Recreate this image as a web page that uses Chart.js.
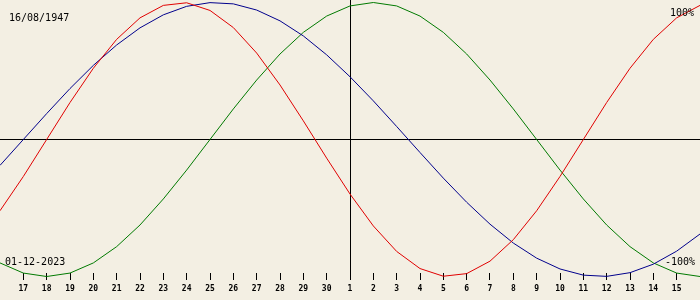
<!DOCTYPE html>
<html>
<head>
<meta charset="utf-8">
<script src="https://cdn.jsdelivr.net/npm/chart.js@4"></script>
<style>
  html, body { margin: 0; padding: 0; background: #F3EFE3; }
  canvas { display: block; }
</style>
</head>
<body>
<canvas id="c" width="700" height="300"></canvas>
<script>
// Days of month, 16 Nov 2023 .. 16 Dec 2023 (centre = 1 Dec 2023)
const dayLabels = ['16','17','18','19','20','21','22','23','24','25','26','27','28','29','30',
                   '1','2','3','4','5','6','7','8','9','10','11','12','13','14','15','16'];

// Physical (red), percent
const physical = [-52.0,-27.0,0.0,27.0,52.0,73.1,88.8,97.9,99.8,94.2,81.7,63.1,39.8,13.6,-13.6,
                  -39.8,-63.1,-81.7,-94.2,-99.8,-97.9,-88.8,-73.1,-52.0,-27.0,0.0,27.0,52.0,73.1,88.8,97.9];
// Emotional (green), percent
const emotional = [-90.1,-97.5,-100.0,-97.5,-90.1,-78.2,-62.4,-43.4,-22.3,0.0,22.3,43.4,62.4,78.2,90.1,
                   97.5,100.0,97.5,90.1,78.2,62.4,43.4,22.3,0.0,-22.3,-43.4,-62.4,-78.2,-90.1,-97.5,-100.0];
// Intellectual (blue), percent
const intellectual = [-18.9,0.0,18.9,37.2,54.1,69.0,81.5,91.0,97.2,99.9,99.0,94.5,86.6,75.6,61.8,
                      45.8,28.2,9.5,-9.5,-28.2,-45.8,-61.8,-75.6,-86.6,-94.5,-99.0,-99.9,-97.2,-91.0,-81.5,-69.0];

const birthText = '16/08/1947';
const dateText = '01-12-2023';
const topText = '100%';
const bottomText = '-100%';

const textPlugin = {
  id: 'texts',
  afterDatasetsDraw(chart) {
    const ctx = chart.ctx;
    ctx.save();
    ctx.fillStyle = '#000';
    ctx.font = '10px "DejaVu Sans Mono"';
    ctx.textBaseline = 'alphabetic';
    ctx.textAlign = 'left';
    ctx.fillText(birthText, 9, 21);
    ctx.fillText(dateText, 5, 265);
    ctx.textAlign = 'right';
    ctx.fillText(topText, 694, 16);
    ctx.fillText(bottomText, 695, 265);
    ctx.restore();
  }
};

new Chart(document.getElementById('c'), {
  type: 'line',
  data: {
    labels: dayLabels,
    datasets: [
      { data: physical, borderColor: '#E00000', borderWidth: 1, pointRadius: 0, pointHoverRadius: 0, tension: 0, clip: false, fill: false },
      { data: intellectual, borderColor: '#00008C', borderWidth: 1, pointRadius: 0, pointHoverRadius: 0, tension: 0, clip: false, fill: false },
      { data: emotional, borderColor: '#007A00', borderWidth: 1, pointRadius: 0, pointHoverRadius: 0, tension: 0, clip: false, fill: false }
    ]
  },
  options: {
    responsive: false,
    animation: false,
    layout: { padding: 0, autoPadding: false },
    plugins: { legend: { display: false }, tooltip: { enabled: false } },
    scales: {
      x: {
        type: 'category',
        offset: false,
        border: { display: false },
        grid: {
          drawOnChartArea: true,
          color: (c) => (c.index === 15 ? '#000' : 'rgba(0,0,0,0)'),
          tickColor: (c) => ((c.index === 0 || c.index === 30) ? 'rgba(0,0,0,0)' : '#000'),
          tickLength: 7,
          lineWidth: 1
        },
        ticks: {
          autoSkip: false,
          maxRotation: 0,
          minRotation: 0,
          padding: 4,
          color: '#000',
          font: { family: '"DejaVu Sans Mono"', size: 8, weight: 'bold' },
          callback: (v, i) => ((i === 0 || i === 30) ? '' : dayLabels[i])
        },
        afterFit: (s) => { s.height = 27; s.paddingLeft = 0; s.paddingRight = 0; }
      },
      y: {
        type: 'linear',
        min: -97.445,
        max: 101.825,
        border: { display: false },
        grid: {
          drawTicks: false,
          color: (c) => (c.tick && c.tick.value === 0 ? '#000' : 'rgba(0,0,0,0)'),
          lineWidth: 1
        },
        ticks: { display: false },
        afterBuildTicks: (s) => { s.ticks = [{ value: 0 }]; },
        afterFit: (s) => { s.width = 0; s.paddingTop = 0; s.paddingBottom = 0; }
      }
    }
  },
  plugins: [textPlugin]
});
</script>
</body>
</html>
